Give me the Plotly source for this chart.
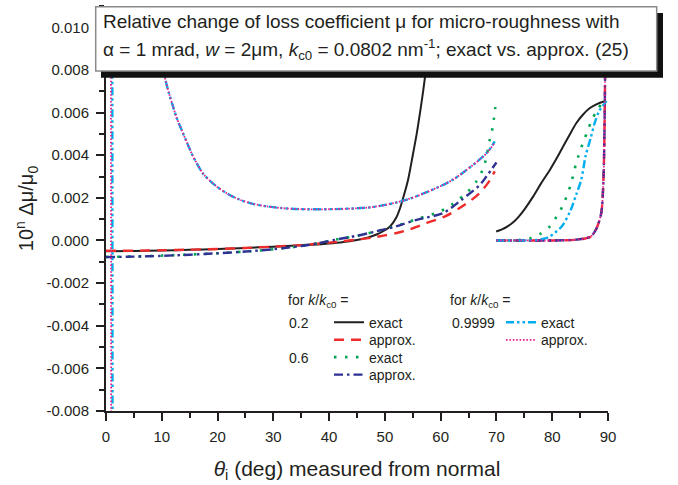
import plotly.graph_objects as go

# ---------------- data ----------------
# k/kc0 = 0.2, exact (solid black): low-angle branch and high-angle branch
EX02_X1 = [0, 5, 10, 15, 20, 25, 30, 35, 39, 42, 45, 47, 48.5, 50, 51, 52, 52.7, 53.5,
           54.2, 55, 55.7, 56.3, 56.8, 57.2, 57.7, 58.2, 58.6]
EX02_Y1 = [-0.00050, -0.00049, -0.00047, -0.00044, -0.00040, -0.00035, -0.00029, -0.00022,
           -0.00016, -0.00009, 0.00002, 0.00014, 0.00028, 0.00048, 0.00068, 0.00105, 0.0015,
           0.0022, 0.0029, 0.0040, 0.0050, 0.0060, 0.0069, 0.0077, 0.0092, 0.0110, 0.0125]
EX02_X2 = [69.95, 71, 72, 73, 74, 75, 76.6, 78, 79.6, 81, 81.95, 83, 84.3, 85.5, 86.7, 88,
           89.4, 89.7]
EX02_Y2 = [0.00042, 0.00052, 0.00066, 0.00085, 0.00112, 0.00145, 0.00207, 0.00268, 0.00332,
           0.00395, 0.00441, 0.0049, 0.0055, 0.0059, 0.0062, 0.0064, 0.00653, 0.00655]

# k/kc0 = 0.2, approx. (red dashed)
AP02_X1 = [0, 5, 10, 15, 20, 25, 30, 35, 40, 41.9, 45, 47.9, 50, 52.1, 54.2, 55.1, 57.5,
           60.8, 63.4, 66.7, 68.5, 69.7]
AP02_Y1 = [-0.00048, -0.00048, -0.00046, -0.00043, -0.00040, -0.00035, -0.00029, -0.00022,
           -0.00010, -0.00005, 0.00004, 0.00014, 0.00024, 0.00035, 0.00050, 0.00058, 0.00082,
           0.00113, 0.00152, 0.00215, 0.00270, 0.00324]

# k/kc0 = 0.6, exact (green dotted)
EX06_X1 = [0, 5, 10, 15, 20, 25, 30, 35, 38, 42, 45, 48, 52, 55.7, 59.9, 62, 64.9, 66.4,
           67.5, 68.1, 68.8, 69.3, 69.8]
EX06_Y1 = [-0.00077, -0.00075, -0.00071, -0.00066, -0.00060, -0.00052, -0.00041, -0.00026,
           -0.00013, 0.00008, 0.00022, 0.00040, 0.00068, 0.00100, 0.00136, 0.00168, 0.0023,
           0.00277, 0.0033, 0.00379, 0.00473, 0.00528, 0.00626]
EX06_X2 = [70, 72, 74, 76, 77.8, 79.6, 80.8, 81.9, 83.3, 84.3, 85.6, 86.3, 87, 88, 89.1, 89.6]
EX06_Y2 = [0, 0, 0.00002, 0.0001, 0.0003, 0.00066, 0.00113, 0.00163, 0.0026, 0.00363,
           0.00465, 0.0051, 0.00559, 0.00609, 0.00648, 0.00655]

# k/kc0 = 0.6, approx. (navy dash-dot)
AP06_X1 = [0, 5, 10, 15, 20, 25, 30, 35, 38, 42, 45, 48, 52, 55.7, 60.5, 63.7, 67, 68.2, 70]
AP06_Y1 = [-0.00078, -0.00076, -0.00072, -0.00067, -0.00060, -0.00052, -0.00041, -0.00026,
           -0.00013, 0.00008, 0.00022, 0.00040, 0.00066, 0.00097, 0.00129, 0.0019, 0.0026,
           0.0030, 0.00366]

# k/kc0 = 0.9999, exact (cyan dash-dot-dot): pole near 1.4 deg, U-shaped branch
EX9999_X1 = [0.5, 1.30, 1.45, 4, 7, 8.6, 9.6, 10.6, 11.3, 12, 12.6, 13.3, 14.5, 15.5, 16.25,
             17.5, 19.8, 22, 24, 26, 28.8, 31.5, 34.8, 40.7, 47.9, 53.9, 59.9, 62.5, 64.6,
             67, 68.5, 69.7]
EX9999_Y1 = [-0.02, -0.1, 0.1, 0.04, 0.018, 0.0118, 0.0093, 0.0076, 0.0069, 0.0063, 0.0058,
             0.00535, 0.0046, 0.0040, 0.00363, 0.0031, 0.00254, 0.00216, 0.00191, 0.00174,
             0.0016, 0.00152, 0.00147, 0.00147, 0.00157, 0.00191, 0.00254, 0.0029, 0.0033,
             0.0038, 0.00418, 0.00465]
EX9999_X2 = [70, 74, 77, 78.5, 79.6, 81.7, 83.2, 84.3, 85.2, 86, 86.9, 87.6, 88.4, 89.7]
EX9999_Y2 = [0, 0, 0.00002, 0.00008, 0.00019, 0.00066, 0.00136, 0.00215, 0.00285, 0.00398,
             0.00481, 0.0055, 0.00606, 0.00653]

# k/kc0 = 0.9999, approx. (pink dotted)
AP9999_X1 = [0.5, 1.10, 1.25, 4, 7, 8.6, 9.6, 10.6, 11.3, 12, 12.6, 13.3, 14.5, 15.5, 16.25,
             17.5, 19.8, 22, 24, 26, 28.8, 31.5, 34.8, 40.7, 47.9, 53.9, 59.9, 62.5, 64.6,
             67, 68.5, 69.7]
AP9999_Y1 = [-0.02, -0.1, 0.1, 0.04, 0.018, 0.0118, 0.0093, 0.0076, 0.0069, 0.0063, 0.0058,
             0.00535, 0.0046, 0.0040, 0.00363, 0.0031, 0.00254, 0.00216, 0.00191, 0.00174,
             0.0016, 0.00152, 0.00147, 0.00147, 0.00157, 0.00191, 0.00254, 0.0029, 0.0033,
             0.0038, 0.00416, 0.0046]

# high-angle branch of the approximations (all three coincide)
AP_TAIL_X = [70, 75, 80, 84, 86, 87, 88, 88.8, 89.2, 89.45, 89.6, 89.75]
AP_TAIL_Y = [0, 0, 0, 0.00003, 0.0001, 0.0002, 0.0006, 0.0013, 0.003, 0.007, 0.015, 0.05]

X_TICKS = [0, 10, 20, 30, 40, 50, 60, 70, 80, 90]
Y_TICKS = [-0.008, -0.006, -0.004, -0.002, 0.000, 0.002, 0.004, 0.006, 0.008, 0.010]

# ---------------- layout helpers ----------------
W, H = 678, 485
ML, MR, MT, MB = 106, 70, 6, 74
PW, PH = W - ML - MR, H - MT - MB
INK = "#231f20"
FONT = "Liberation Sans, Arial, sans-serif"


def xp(px):
    return (px - ML) / PW


def yp(py):
    return (H - MB - py) / PH


def join(x1, y1, x2=None, y2=None):
    if x2 is None:
        return list(x1), list(y1)
    return list(x1) + [None] + list(x2), list(y1) + [None] + list(y2)


series = [
    # name, x, y, color, dash, width, legend id
    ("exact", *join(EX02_X1, EX02_Y1, EX02_X2, EX02_Y2), INK, "solid", 2.0, "legend"),
    ("approx.", *join(AP02_X1, AP02_Y1, AP_TAIL_X, AP_TAIL_Y), "#ee2c2c", "10px,7px", 2.4, "legend2"),
    ("exact", *join(EX06_X1, EX06_Y1, EX06_X2, EX06_Y2), "#00a651", "2.5px,8.5px", 2.6, "legend3"),
    ("approx.", *join(AP06_X1, AP06_Y1, AP_TAIL_X, AP_TAIL_Y), "#2e3192", "9px,4px,2.5px,4px", 2.4, "legend4"),
    ("exact", *join(EX9999_X1, EX9999_Y1, EX9999_X2, EX9999_Y2), "#00aeef", "8px,3px,2.5px,3px,2.5px,3px", 2.4, "legend5"),
    ("approx.", *join(AP9999_X1, AP9999_Y1, AP_TAIL_X, AP_TAIL_Y), "#e8208c", "1.6px,1.8px", 1.8, "legend6"),
]

fig = go.Figure()
for name, x, y, color, dash, width, leg in series:
    fig.add_trace(go.Scatter(
        x=x, y=y, mode="lines", name=name, legend=leg, connectgaps=False,
        line=dict(color=color, dash=dash, width=width, shape="spline", smoothing=0.8),
        hoverinfo="skip"))

# legend positions (one entry per legend so the rows can be placed freely)
rows = {"legend": (329, 322.7), "legend2": (329, 340.2), "legend3": (329, 357.5),
        "legend4": (329, 375.0), "legend5": (501, 322.7), "legend6": (501, 340.2)}
legend_cfg = {}
for key, (lx, ly) in rows.items():
    legend_cfg[key] = dict(
        x=xp(lx), y=yp(ly), xanchor="left", yanchor="middle", xref="paper", yref="paper",
        bgcolor="rgba(0,0,0,0)", borderwidth=0, itemwidth=30,
        font=dict(family=FONT, size=14, color=INK))

annotations = []


def txt(text, x, y, size=14, xanchor="left", yanchor="middle"):
    annotations.append(dict(text=text, x=xp(x), y=yp(y), xref="paper", yref="paper",
                            showarrow=False, xanchor=xanchor, yanchor=yanchor,
                            font=dict(family=FONT, size=size, color=INK)))


txt("for <i>k</i>/<i>k</i><sub>c0</sub> =", 286, 301)
txt("0.2", 287, 322.7)
txt("0.6", 287, 357.5)
txt("for <i>k</i>/<i>k</i><sub>c0</sub> =", 448, 301)
txt("0.9999", 450, 322.7)

# title box text
txt("Relative change of loss coefficient μ for micro-roughness with", 101, 21.5, size=19)
txt("α = 1 mrad, <i>w</i> = 2μm, <i>k</i><sub>c0</sub> = 0.0802 nm<sup>-1</sup>; "
    "exact vs. approx. (25)", 101, 49, size=19)

shapes = [
    dict(type="rect", xref="paper", yref="paper", layer="above",
         x0=xp(101), x1=xp(663), y0=yp(77.7), y1=yp(13),
         fillcolor="#111111", line=dict(width=0)),
    dict(type="rect", xref="paper", yref="paper", layer="above",
         x0=xp(95.7), x1=xp(656.7), y0=yp(71), y1=yp(6.7),
         fillcolor="white", line=dict(color="#8a8a8a", width=1.5)),
]

axis_common = dict(
    showgrid=False, zeroline=False, showline=True, linecolor=INK, linewidth=2,
    ticks="outside", tickcolor=INK, tickwidth=1.6, ticklen=8,
    tickfont=dict(family=FONT, size=15, color=INK),
)

fig.update_layout(
    width=W, height=H,
    margin=dict(l=ML, r=MR, t=MT, b=MB, autoexpand=False),
    paper_bgcolor="white", plot_bgcolor="white",
    showlegend=True,
    xaxis=dict(
        **axis_common, range=[0, 90], tickmode="array", tickvals=X_TICKS,
        ticktext=[str(v) for v in X_TICKS],
        minor=dict(dtick=5, tick0=0, ticks="outside", ticklen=5, tickwidth=1.6, tickcolor=INK),
        title=dict(text="<i>θ</i><sub>i</sub> (deg) measured from normal",
                   font=dict(family=FONT, size=21, color=INK), standoff=17),
        ticklabelstandoff=3,
    ),
    yaxis=dict(
        **axis_common, range=[-0.008, 0.011], tickmode="array", tickvals=Y_TICKS,
        ticktext=[f"{v:.3f}" for v in Y_TICKS],
        minor=dict(dtick=0.001, tick0=0, ticks="outside", ticklen=5, tickwidth=1.6, tickcolor=INK),
        title=dict(text="10<sup>n</sup> Δμ/μ<sub>0</sub>",
                   font=dict(family=FONT, size=20, color=INK), standoff=7),
        ticklabelstandoff=4,
    ),
    annotations=annotations,
    shapes=shapes,
    **legend_cfg,
)

fig.write_html("out.html", include_plotlyjs=True, config={"displayModeBar": False},
               post_script="document.body.style.margin='0';")
